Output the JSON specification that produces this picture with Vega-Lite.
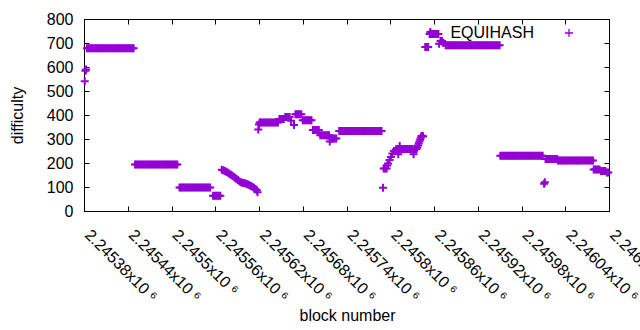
{
"$schema": "https://vega.github.io/schema/vega-lite/v6.json",
"autosize": "none",
"width": 525,
"height": 192,
"padding": {"left": 84, "top": 19, "right": 31, "bottom": 119},
"config": {"font": "Liberation Sans", "view": {"stroke": "black", "strokeWidth": 1},
 "axis": {"grid": false, "domainColor": "black", "tickColor": "black", "labelColor": "black", "titleColor": "black", "labelFontSize": 16, "titleFontSize": 16, "titleFontWeight": "normal", "tickSize": -5, "domainWidth": 1}},
"data": {"values": [
{"b":2245381,"d":541},{"b":2245382,"d":584},{"b":2245383,"d":590},
{"b":2245384,"d":678},{"b":2245386,"d":678},{"b":2245388,"d":678},{"b":2245390,"d":678},{"b":2245392,"d":678},{"b":2245394,"d":678},{"b":2245396,"d":678},{"b":2245398,"d":678},{"b":2245400,"d":678},{"b":2245402,"d":678},{"b":2245404,"d":678},{"b":2245406,"d":678},{"b":2245408,"d":678},{"b":2245410,"d":678},{"b":2245412,"d":678},{"b":2245414,"d":678},{"b":2245416,"d":678},{"b":2245418,"d":678},{"b":2245420,"d":678},{"b":2245422,"d":678},{"b":2245424,"d":678},{"b":2245426,"d":678},{"b":2245428,"d":678},{"b":2245430,"d":678},{"b":2245432,"d":678},{"b":2245434,"d":678},{"b":2245436,"d":678},{"b":2245438,"d":678},{"b":2245440,"d":678},{"b":2245442,"d":678},{"b":2245444,"d":678},{"b":2245446,"d":678},{"b":2245448,"d":678},
{"b":2245450,"d":194},{"b":2245452,"d":194},{"b":2245454,"d":194},{"b":2245456,"d":194},{"b":2245458,"d":194},{"b":2245460,"d":194},{"b":2245462,"d":194},{"b":2245464,"d":194},{"b":2245466,"d":194},{"b":2245468,"d":194},{"b":2245470,"d":194},{"b":2245472,"d":194},{"b":2245474,"d":194},{"b":2245476,"d":194},{"b":2245478,"d":194},{"b":2245480,"d":194},{"b":2245482,"d":194},{"b":2245484,"d":194},{"b":2245486,"d":194},{"b":2245488,"d":194},{"b":2245490,"d":194},{"b":2245492,"d":194},{"b":2245494,"d":194},{"b":2245496,"d":194},{"b":2245498,"d":194},{"b":2245500,"d":194},{"b":2245502,"d":194},{"b":2245504,"d":194},{"b":2245506,"d":194},{"b":2245508,"d":194},
{"b":2245511,"d":98},{"b":2245513,"d":98},{"b":2245515,"d":98},{"b":2245517,"d":98},{"b":2245519,"d":98},{"b":2245521,"d":98},{"b":2245523,"d":98},{"b":2245525,"d":98},{"b":2245527,"d":98},{"b":2245529,"d":98},{"b":2245531,"d":98},{"b":2245533,"d":98},{"b":2245535,"d":98},{"b":2245537,"d":98},{"b":2245539,"d":98},{"b":2245541,"d":98},{"b":2245543,"d":98},{"b":2245545,"d":98},{"b":2245547,"d":98},{"b":2245549,"d":98},{"b":2245551,"d":98},{"b":2245553,"d":98},
{"b":2245557,"d":64},{"b":2245559,"d":64},{"b":2245561,"d":64},{"b":2245563,"d":64},{"b":2245565,"d":64},{"b":2245567,"d":64},
{"b":2245569,"d":172},{"b":2245571,"d":170},{"b":2245573,"d":167},{"b":2245575,"d":164},{"b":2245577,"d":160},{"b":2245579,"d":156},{"b":2245581,"d":152},{"b":2245583,"d":148},{"b":2245585,"d":144},{"b":2245587,"d":139},{"b":2245589,"d":134},{"b":2245591,"d":129},{"b":2245593,"d":124},{"b":2245595,"d":120},{"b":2245597,"d":118},{"b":2245599,"d":117},{"b":2245601,"d":116},{"b":2245603,"d":113},{"b":2245605,"d":110},{"b":2245607,"d":107},{"b":2245609,"d":104},{"b":2245611,"d":101},{"b":2245613,"d":97},{"b":2245615,"d":92},{"b":2245617,"d":86},{"b":2245618,"d":78},
{"b":2245619,"d":340},{"b":2245620,"d":360},{"b":2245621,"d":369},{"b":2245622,"d":369},{"b":2245624,"d":369},{"b":2245626,"d":369},{"b":2245628,"d":369},{"b":2245630,"d":369},{"b":2245632,"d":369},{"b":2245634,"d":369},{"b":2245636,"d":369},{"b":2245638,"d":369},{"b":2245640,"d":369},{"b":2245642,"d":369},{"b":2245644,"d":369},{"b":2245646,"d":369},
{"b":2245648,"d":383},{"b":2245650,"d":383},{"b":2245652,"d":383},{"b":2245654,"d":383},
{"b":2245656,"d":392},{"b":2245658,"d":392},{"b":2245660,"d":392},{"b":2245662,"d":392},
{"b":2245664,"d":376},{"b":2245668,"d":358},
{"b":2245670,"d":403},{"b":2245672,"d":403},{"b":2245674,"d":403},{"b":2245676,"d":403},{"b":2245678,"d":403},
{"b":2245680,"d":378},{"b":2245682,"d":378},{"b":2245684,"d":378},{"b":2245686,"d":378},{"b":2245688,"d":378},{"b":2245690,"d":378},{"b":2245692,"d":378},
{"b":2245694,"d":337},{"b":2245696,"d":337},{"b":2245698,"d":337},{"b":2245700,"d":337},{"b":2245702,"d":337},
{"b":2245704,"d":316},{"b":2245706,"d":316},{"b":2245708,"d":316},{"b":2245710,"d":316},{"b":2245712,"d":316},{"b":2245714,"d":316},{"b":2245716,"d":316},
{"b":2245717,"d":290},{"b":2245718,"d":302},{"b":2245720,"d":302},{"b":2245722,"d":302},{"b":2245724,"d":302},{"b":2245726,"d":302},
{"b":2245730,"d":333},{"b":2245732,"d":333},{"b":2245734,"d":333},{"b":2245736,"d":333},{"b":2245738,"d":333},{"b":2245740,"d":333},{"b":2245742,"d":333},{"b":2245744,"d":333},{"b":2245746,"d":333},{"b":2245748,"d":333},{"b":2245750,"d":333},{"b":2245752,"d":333},{"b":2245754,"d":333},{"b":2245756,"d":333},{"b":2245758,"d":333},{"b":2245760,"d":333},{"b":2245762,"d":333},{"b":2245764,"d":333},{"b":2245766,"d":333},{"b":2245768,"d":333},{"b":2245770,"d":333},{"b":2245772,"d":333},{"b":2245774,"d":333},{"b":2245776,"d":333},{"b":2245778,"d":333},{"b":2245780,"d":333},{"b":2245782,"d":333},{"b":2245784,"d":333},{"b":2245786,"d":333},{"b":2245788,"d":333},
{"b":2245790,"d":97},{"b":2245791,"d":177},{"b":2245793,"d":177},{"b":2245795,"d":177},
{"b":2245796,"d":190},{"b":2245797,"d":198},{"b":2245799,"d":212},{"b":2245801,"d":225},{"b":2245803,"d":240},{"b":2245805,"d":250},{"b":2245808,"d":256},
{"b":2245810,"d":258},{"b":2245811,"d":236},{"b":2245812,"d":258},{"b":2245813,"d":271},{"b":2245814,"d":258},{"b":2245816,"d":258},{"b":2245818,"d":258},{"b":2245820,"d":258},{"b":2245822,"d":258},{"b":2245824,"d":258},{"b":2245826,"d":258},{"b":2245828,"d":258},{"b":2245830,"d":258},{"b":2245832,"d":236},{"b":2245833,"d":258},{"b":2245834,"d":258},{"b":2245836,"d":258},
{"b":2245837,"d":265},{"b":2245838,"d":273},{"b":2245839,"d":281},{"b":2245840,"d":290},{"b":2245841,"d":298},{"b":2245842,"d":306},{"b":2245843,"d":312},{"b":2245844,"d":314},{"b":2245845,"d":310},
{"b":2245848,"d":683},{"b":2245850,"d":683},{"b":2245852,"d":683},
{"b":2245854,"d":737},{"b":2245855,"d":746},{"b":2245856,"d":737},{"b":2245858,"d":737},{"b":2245860,"d":737},{"b":2245862,"d":737},{"b":2245864,"d":737},{"b":2245866,"d":737},
{"b":2245867,"d":697},{"b":2245869,"d":708},{"b":2245871,"d":708},{"b":2245873,"d":700},
{"b":2245876,"d":691},{"b":2245878,"d":691},{"b":2245880,"d":691},{"b":2245882,"d":691},{"b":2245884,"d":691},{"b":2245886,"d":691},{"b":2245888,"d":691},{"b":2245890,"d":691},{"b":2245892,"d":691},{"b":2245894,"d":691},{"b":2245896,"d":691},{"b":2245898,"d":691},{"b":2245900,"d":691},{"b":2245902,"d":691},{"b":2245904,"d":691},{"b":2245906,"d":691},{"b":2245908,"d":691},{"b":2245910,"d":691},{"b":2245912,"d":691},{"b":2245914,"d":691},{"b":2245916,"d":691},{"b":2245918,"d":691},{"b":2245920,"d":691},{"b":2245922,"d":691},{"b":2245924,"d":691},{"b":2245926,"d":691},{"b":2245928,"d":691},{"b":2245930,"d":691},{"b":2245932,"d":691},{"b":2245934,"d":691},{"b":2245936,"d":691},{"b":2245938,"d":691},{"b":2245940,"d":691},{"b":2245942,"d":691},{"b":2245944,"d":691},{"b":2245946,"d":691},{"b":2245948,"d":691},{"b":2245950,"d":691},
{"b":2245951,"d":230},{"b":2245953,"d":230},{"b":2245955,"d":230},{"b":2245957,"d":230},{"b":2245959,"d":230},{"b":2245961,"d":230},{"b":2245963,"d":230},{"b":2245965,"d":230},{"b":2245967,"d":230},{"b":2245969,"d":230},{"b":2245971,"d":230},{"b":2245973,"d":230},{"b":2245975,"d":230},{"b":2245977,"d":230},{"b":2245979,"d":230},{"b":2245981,"d":230},{"b":2245983,"d":230},{"b":2245985,"d":230},{"b":2245987,"d":230},{"b":2245989,"d":230},{"b":2245991,"d":230},{"b":2245993,"d":230},{"b":2245995,"d":230},{"b":2245997,"d":230},{"b":2245999,"d":230},{"b":2246001,"d":230},{"b":2246003,"d":230},{"b":2246005,"d":230},{"b":2246007,"d":230},{"b":2246009,"d":230},
{"b":2246011,"d":114},{"b":2246012,"d":120},
{"b":2246013,"d":217},{"b":2246015,"d":217},{"b":2246017,"d":217},{"b":2246019,"d":217},{"b":2246021,"d":217},{"b":2246023,"d":217},{"b":2246025,"d":217},{"b":2246027,"d":217},{"b":2246029,"d":217},
{"b":2246030,"d":210},{"b":2246032,"d":210},{"b":2246034,"d":210},{"b":2246036,"d":210},{"b":2246038,"d":210},{"b":2246040,"d":210},{"b":2246042,"d":210},{"b":2246044,"d":210},{"b":2246046,"d":210},{"b":2246048,"d":210},{"b":2246050,"d":210},{"b":2246052,"d":210},{"b":2246054,"d":210},{"b":2246056,"d":210},{"b":2246058,"d":210},{"b":2246060,"d":210},{"b":2246062,"d":210},{"b":2246064,"d":210},{"b":2246066,"d":210},{"b":2246068,"d":210},{"b":2246070,"d":210},{"b":2246072,"d":210},{"b":2246074,"d":210},{"b":2246076,"d":210},{"b":2246078,"d":210},
{"b":2246079,"d":173},{"b":2246081,"d":173},{"b":2246083,"d":173},{"b":2246085,"d":173},{"b":2246087,"d":173},
{"b":2246089,"d":167},{"b":2246091,"d":167},{"b":2246093,"d":167},{"b":2246095,"d":167},
{"b":2246097,"d":160},{"b":2246099,"d":160}
]},
"layer": [
{
"mark": {"type": "point", "shape": "M-1,0H1M0,-1V1", "filled": false, "size": 64, "strokeWidth": 2, "opacity": 1},
"encoding": {
 "x": {"field": "b", "type": "quantitative", "scale": {"domain": [2245380, 2246100], "nice": false, "zero": false},
  "axis": {"orient": "bottom", "values": [2245380,2245440,2245500,2245560,2245620,2245680,2245740,2245800,2245860,2245920,2245980,2246040,2246100],
   "labelExpr": "format(datum.value/1000000, '~g') + 'x10 ⁶'", "labelAngle": 45, "labelAlign": "left", "labelBaseline": "middle", "labelPadding": 26, "labelOffset": 3, "labelOverlap": false, "labelBound": false, "labelFlush": false,
   "title": "block number", "titleX": 263, "titleY": 104, "titleBaseline": "middle", "titleAnchor": null}},
 "y": {"field": "d", "type": "quantitative", "scale": {"domain": [0, 800], "nice": false},
  "axis": {"orient": "left", "values": [0,100,200,300,400,500,600,700,800], "labelPadding": 16, "title": "difficulty", "titleX": -67, "titleY": 96, "titleAngle": -90, "titleBaseline": "middle", "titleAlign": "center"}},
 "color": {"datum": "EQUIHASH", "scale": {"range": ["#9400d3"]},
  "legend": {"orient": "none", "legendX": 477, "legendY": 6, "title": null, "padding": 0, "labelFontSize": 16, "labelColor": "black", "labelAlign": "right", "labelOffset": -43, "symbolType": "M-1,0H1M0,-1V1", "symbolSize": 64, "symbolStrokeWidth": 1.3, "symbolFillColor": "transparent"}}
}
},
{
"mark": {"type": "point", "opacity": 0},
"encoding": {
 "x": {"field": "b", "type": "quantitative", "scale": {"domain": [2245380, 2246100], "nice": false, "zero": false},
  "axis": {"orient": "top", "values": [2245380,2245440,2245500,2245560,2245620,2245680,2245740,2245800,2245860,2245920,2245980,2246040,2246100], "labels": false, "title": null}},
 "y": {"field": "d", "type": "quantitative", "scale": {"domain": [0, 800], "nice": false},
  "axis": {"orient": "right", "values": [0,100,200,300,400,500,600,700,800], "labels": false, "title": null}}
}
}
],
"resolve": {"scale": {"x": "independent", "y": "independent"}}
}
